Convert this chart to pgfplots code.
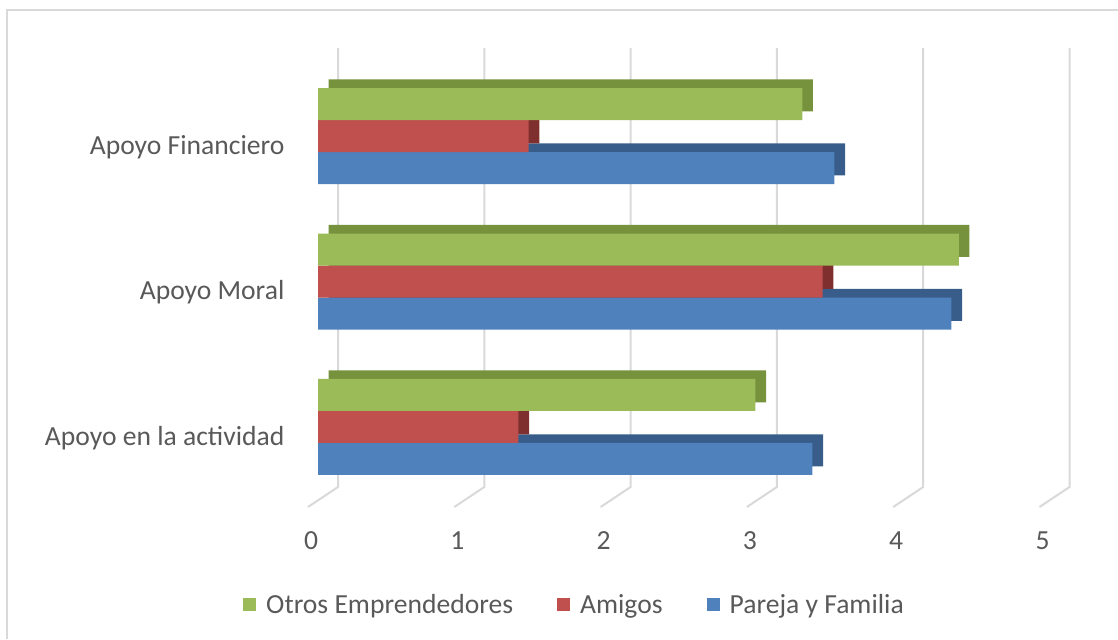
\documentclass[border=0pt]{standalone}
\usepackage{pgfplots}
\pgfplotsset{compat=1.18}
\usepackage{pgfplotstable}
\usepackage{fontspec}
\setmainfont{Carlito}

\definecolor{txt}{HTML}{595959}
\definecolor{gridc}{HTML}{D9D9D9}
\definecolor{cgreen}{HTML}{9BBB59}
\definecolor{cgreend}{HTML}{76923C}
\definecolor{cred}{HTML}{C0504D}
\definecolor{credd}{HTML}{7F302E}
\definecolor{cblue}{HTML}{4F81BD}
\definecolor{cblued}{HTML}{385D8A}

% y: 0 = actividad, 1 = moral, 2 = financiero
\pgfplotstableread{
y pareja amigos otros
0 3.38 1.37 2.99
1 4.33 3.45 4.38
2 3.53 1.44 3.31
}\datatable

\newcommand{\lblfont}{\fontsize{13.8}{16}\selectfont}

\begin{document}
\begin{tikzpicture}
\path[use as bounding box] (0,0) rectangle (559pt,319.5pt);
\draw[gridc, line width=1pt] (3.5pt,0) -- (3.5pt,314.5pt) -- (559pt,314.5pt);
\begin{axis}[
    at={(159pt,66pt)}, anchor=south west,
    scale only axis, width=365.75pt, height=229.5pt,
    xmin=0, xmax=5, ymin=-0.55, ymax=2.605,
    clip=false,
    xbar, bar width=16pt,
    axis line style={draw=none}, tick style={draw=none},
    xtick={0,...,5}, ytick={0,1,2},
    yticklabels={Apoyo en la actividad, Apoyo Moral, Apoyo Financiero},
    ticklabel style={font=\lblfont, text=txt},
    xticklabel style={anchor=center, xshift=-3.5pt, yshift=-17pt},
    yticklabel style={anchor=east, xshift=-9pt, yshift=-5.5pt},
    /pgf/number format/assume math mode=true,
    legend columns=3, reverse legend,
    legend style={draw=none, fill=none, at={(0.352,-0.2135)}, anchor=center,
        font=\lblfont, text=txt,
        /tikz/every odd column/.append style={column sep=3pt},
        /tikz/every even column/.append style={column sep=20pt}},
    legend image code/.code={\fill[#1,/tikz/.cd,draw=none,yshift=-3pt] (0pt,0pt) rectangle (6.5pt,6.5pt);},
]
\pgfplotsinvokeforeach{0,...,5}{
  \draw[gridc, line width=1pt] ([xshift=-5pt]axis cs:#1,-0.55) -- ([xshift=10pt,yshift=10pt]axis cs:#1,-0.55) -- ([xshift=10pt]axis cs:#1,2.605);
}
% blue
\addplot[forget plot, fill=cblued, draw=none, bar shift=-16pt, xshift=5.3pt, yshift=4.3pt] table[x=pareja, y=y] {\datatable};
\addplot[fill=cblue, draw=none, bar shift=-16pt] table[x=pareja, y=y] {\datatable};
\addlegendentry{Pareja y Familia}
% red
\addplot[forget plot, fill=credd, draw=none, bar shift=0pt, xshift=5.3pt, yshift=4.3pt] table[x=amigos, y=y] {\datatable};
\addplot[fill=cred, draw=none, bar shift=0pt] table[x=amigos, y=y] {\datatable};
\addlegendentry{Amigos}
% green
\addplot[forget plot, fill=cgreend, draw=none, bar shift=16pt, xshift=5.3pt, yshift=4.3pt] table[x=otros, y=y] {\datatable};
\addplot[fill=cgreen, draw=none, bar shift=16pt] table[x=otros, y=y] {\datatable};
\addlegendentry{Otros Emprendedores}
\end{axis}
\end{tikzpicture}
\end{document}
